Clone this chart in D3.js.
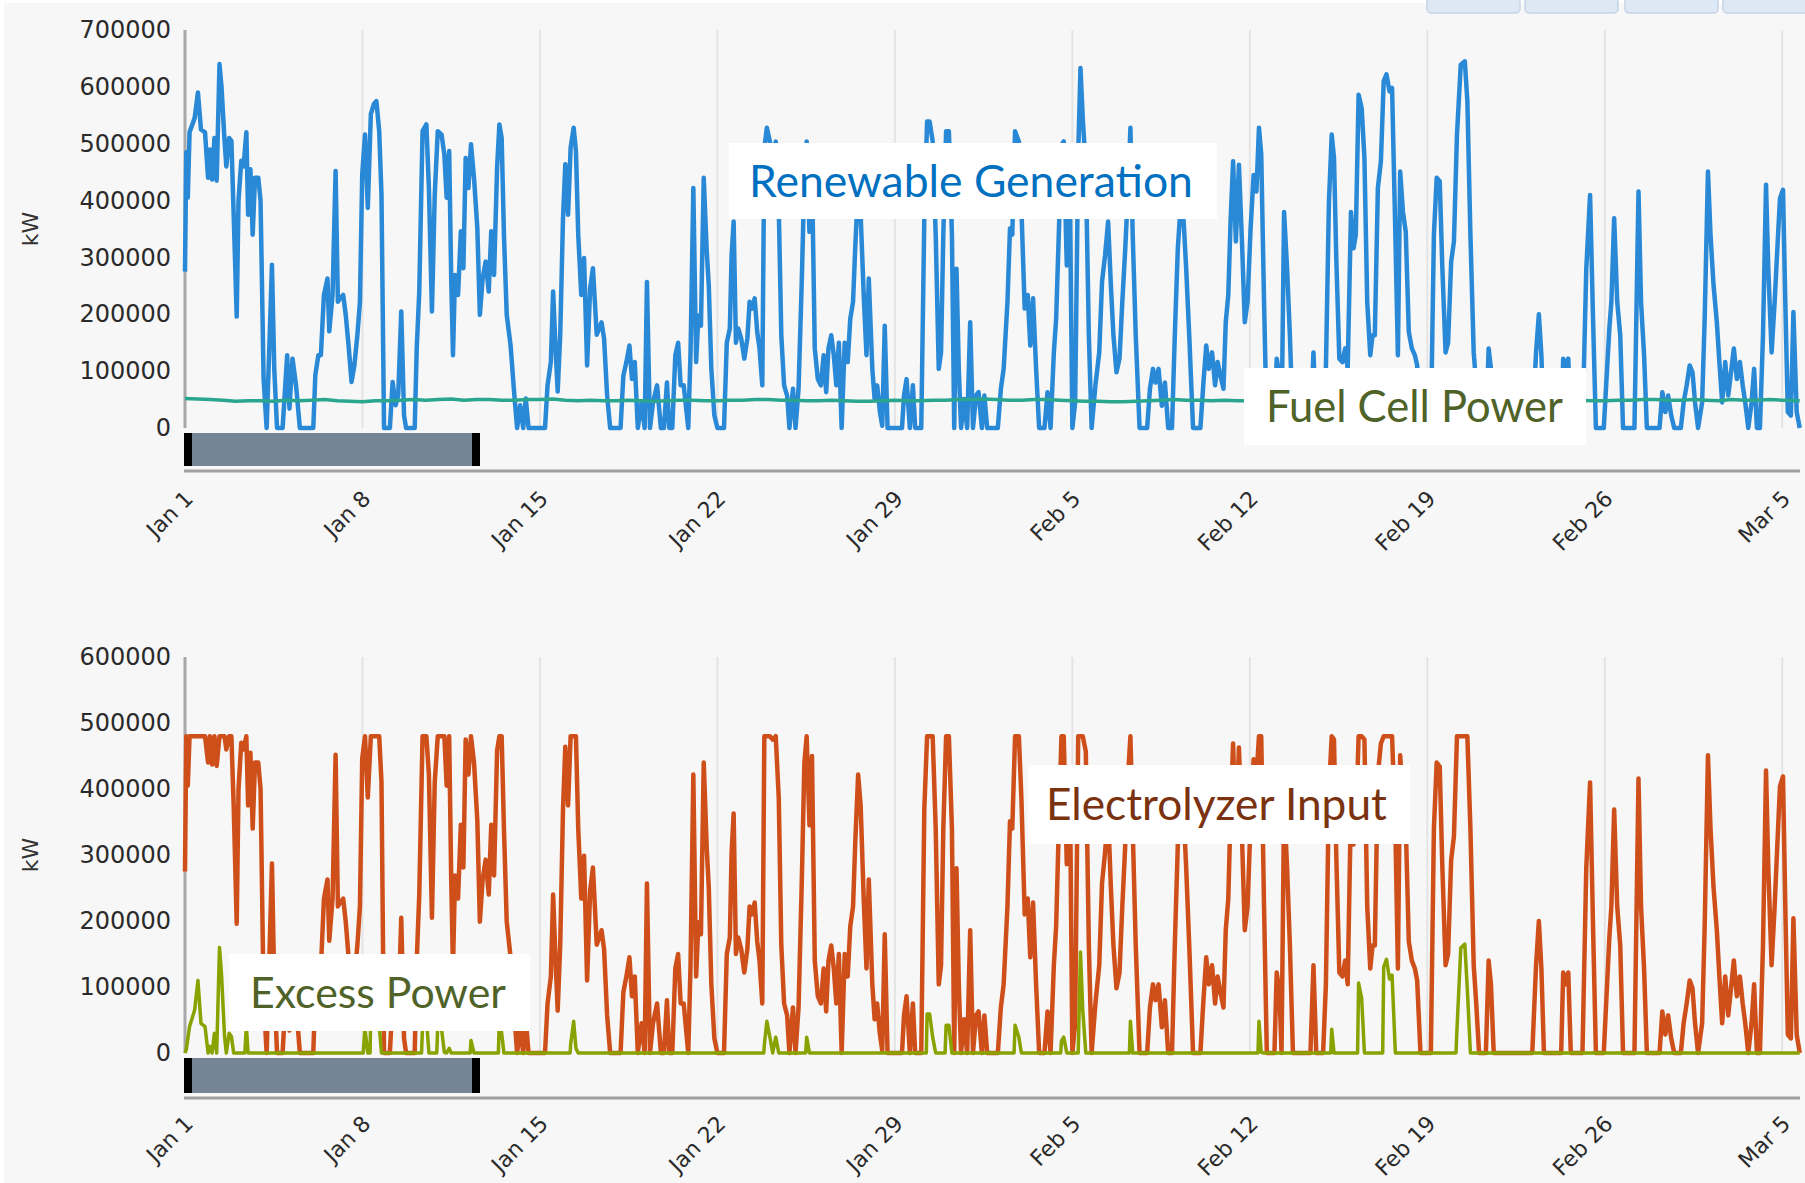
<!DOCTYPE html>
<html>
<head>
<meta charset="utf-8">
<script src="https://cdn.jsdelivr.net/npm/d3@7"></script>
<style>
  body { margin: 0; background: #fff; }
  svg { display: block; }
</style>
</head>
<body>
<svg id="chart"></svg>
<script>
// values are [day since Jan 1, MW]  (1 MW = 1000 kW)

var tickLabels = ['Jan 1', 'Jan 8', 'Jan 15', 'Jan 22', 'Jan 29', 'Feb 5', 'Feb 12', 'Feb 19', 'Feb 26', 'Mar 5'];
var tickDays = [0, 7, 14, 21, 28, 35, 42, 49, 56, 63];
var topTicks = [0, 100000, 200000, 300000, 400000, 500000, 600000, 700000];
var bottomTicks = [0, 100000, 200000, 300000, 400000, 500000, 600000];

var renewable = [
[0,275],[0.05,485],[0.11,405],[0.18,520],[0.38,545],[0.51,590],[0.63,525],[0.79,520],[0.91,440],[0.98,490],[1.07,437],[1.16,510],[1.25,435],[1.36,640],[1.44,600],[1.56,505],[1.63,460],[1.74,510],[1.83,505],[1.92,375],[2.04,196],[2.11,400],[2.22,470],[2.31,460],[2.42,520],[2.49,375],[2.58,455],[2.67,340],[2.76,440],[2.89,440],[2.98,400],[3.10,87],[3.22,0],[3.32,134],[3.43,287],[3.52,105],[3.63,0],[3.85,0],[4.03,128],[4.12,34],[4.24,122],[4.38,75],[4.53,0],[5.06,0],[5.14,93],[5.26,128],[5.36,128],[5.48,234],[5.62,263],[5.69,170],[5.82,234],[5.94,452],[6.03,222],[6.12,228],[6.24,234],[6.34,199],[6.45,146],[6.57,81],[6.68,110],[6.80,164],[6.90,222],[6.99,446],[7.10,516],[7.21,387],[7.33,552],[7.45,570],[7.55,575],[7.66,522],[7.75,410],[7.85,0],[8.08,0],[8.19,81],[8.31,40],[8.41,58],[8.53,205],[8.64,22],[8.72,0],[9.06,0],[9.14,140],[9.24,240],[9.37,522],[9.52,534],[9.62,422],[9.74,205],[9.85,410],[9.97,522],[10.12,516],[10.23,481],[10.32,405],[10.42,487],[10.50,263],[10.57,128],[10.65,269],[10.77,234],[10.88,346],[10.98,281],[11.07,475],[11.18,422],[11.28,499],[11.40,440],[11.53,352],[11.63,199],[11.74,263],[11.86,293],[11.98,240],[12.08,346],[12.19,269],[12.31,458],[12.40,534],[12.49,510],[12.58,340],[12.69,199],[12.84,146],[12.99,58],[13.10,0],[13.22,40],[13.34,0],[13.44,52],[13.55,0],[14.20,0],[14.30,75],[14.43,116],[14.52,240],[14.61,146],[14.70,64],[14.80,164],[14.91,370],[15.00,464],[15.11,375],[15.21,493],[15.33,528],[15.42,487],[15.51,340],[15.63,234],[15.74,299],[15.86,110],[15.98,246],[16.09,281],[16.24,164],
[16.43,186],[16.53,157],[16.65,57],[16.77,0],[17.18,0],[17.29,92],[17.41,116],[17.53,145],[17.63,86],[17.74,116],[17.86,0],[18.01,45],[18.13,0],[18.22,257],[18.34,0],[18.46,45],[18.62,75],[18.77,0],[18.89,0],[19.01,80],[19.10,0],[19.22,0],[19.34,128],[19.45,150],[19.55,75],[19.67,75],[19.85,0],[19.94,133],[20.05,422],[20.16,116],[20.25,198],[20.35,180],[20.46,440],[20.58,310],[20.66,250],[20.76,104],[20.88,22],[21.00,0],[21.26,0],[21.37,150],[21.49,175],[21.56,304],[21.64,363],[21.73,150],[21.82,175],[21.94,157],[22.06,122],[22.18,157],[22.27,222],[22.36,210],[22.47,228],[22.57,169],[22.66,140],[22.77,75],[22.85,492],[22.95,528],[23.07,504],[23.18,475],[23.30,504],[23.42,386],[23.52,163],[23.63,75],[23.75,57],[23.84,0],[23.98,69],[24.08,0],[24.20,69],[24.33,263],[24.43,440],[24.52,504],[24.63,345],[24.73,450],[24.84,140],[24.96,86],[25.08,75],[25.19,128],[25.29,63],[25.38,140],[25.49,163],[25.59,128],[25.69,75],[25.79,150],[25.90,0],[26.02,150],[26.14,116],[26.24,192],[26.35,222],[26.44,322],[26.55,422],[26.65,375],[26.77,234],[26.88,128],[26.97,263],[27.11,104],[27.20,51],[27.30,75],[27.41,28],[27.50,4],[27.60,180],[27.71,0],[28.28,0],[28.36,57],[28.46,86],[28.59,0],[28.71,75],[28.80,0],[29.04,0],[29.16,369],[29.27,539],[29.37,539],[29.49,504],[29.61,340],[29.73,104],[29.82,133],[29.91,340],[30.02,522],[30.13,522],[30.25,340],[30.34,0],[30.43,280],[30.52,104],[30.61,0],[30.73,51],[30.85,0],[30.97,186],[31.08,0],[31.20,57],[31.30,63],[31.43,0],[31.53,57],[31.64,0],[32.06,0],[32.18,69],[32.29,104],[32.44,222],[32.54,351],[32.63,340],[32.74,522],[32.89,504],[32.99,386],[33.12,210],[33.24,234],[33.34,145],[33.45,228],[33.57,104],[33.69,0],[33.90,0],[34.02,63],[34.14,0],[34.27,133],[34.36,192],[34.48,363],[34.57,498],[34.66,504],[34.78,286],[34.90,422],[35.00,0],[35.11,45],[35.23,480],[35.32,633],[35.41,545],[35.53,457],[35.65,163],[35.76,0],[35.91,75],[36.06,133],[36.17,257],[36.29,304],[36.41,363],[36.52,250],[36.62,163],[36.74,98],[36.86,122],[36.97,222],[37.08,310],[37.20,422],[37.29,528],[37.38,340],[37.50,163],[37.65,0],[37.95,0],[38.06,69],[38.18,104],[38.28,80],[38.40,104],[38.53,39],[38.65,80],[38.78,0],[38.93,0],[39.04,163],[39.16,316],[39.28,398],[39.39,363],[39.49,280],[39.61,163],[39.76,0],[40.05,0],
[40.17,80],[40.28,145],[40.38,104],[40.51,133],[40.63,75],[40.73,116],[40.84,92],[40.96,69],[41.05,186],[41.15,234],[41.24,363],[41.34,469],[41.45,328],[41.57,463],[41.69,328],[41.80,186],[41.91,222],[42.03,351],[42.15,445],[42.26,416],[42.36,528],[42.45,481],[42.56,222],[42.67,0],[42.97,0],[43.06,122],[43.17,92],[43.25,0],[43.35,380],[43.47,280],[43.58,163],[43.70,0],[44.39,0],[44.51,133],[44.62,0],[44.89,0],[45.00,104],[45.12,398],[45.23,516],[45.32,475],[45.41,298],[45.53,122],[45.65,116],[45.76,140],[45.86,104],[45.99,380],[46.09,316],[46.18,340],[46.29,586],[46.41,563],[46.52,475],[46.63,222],[46.75,128],[46.84,163],[46.93,163],[47.05,422],[47.17,469],[47.28,610],[47.39,622],[47.51,592],[47.61,598],[47.74,340],[47.84,128],[47.93,451],[48.04,380],[48.15,345],[48.27,169],[48.39,140],[48.51,128],[48.60,110],[48.73,0],[49.14,0],[49.26,340],[49.37,440],[49.49,434],[49.59,286],[49.72,133],[49.82,150],[49.94,292],[50.05,328],[50.17,516],[50.32,639],[50.48,645],[50.58,575],[50.70,340],[50.83,133],[50.93,75],[51.04,0],[51.31,0],[51.42,140],[51.51,104],[51.62,0],[53.14,0],[53.29,133],[53.40,200],[53.50,128],[53.60,0],[54.28,0],[54.36,122],[54.46,104],[54.56,122],[54.66,0],[55.12,0],[55.27,280],[55.42,410],[55.54,186],[55.65,0],[55.96,0],[56.18,175],[56.26,222],[56.37,369],[56.49,222],[56.61,163],[56.72,0],[57.17,0],[57.33,416],[57.43,222],[57.55,128],[57.66,0],[58.16,0],[58.27,63],[58.39,28],[58.50,57],[58.62,22],[58.74,0],[59.00,0],[59.11,45],[59.23,75],[59.35,110],[59.46,98],[59.56,45],[59.68,0],[59.84,45],[59.94,192],[60.07,451],[60.17,340],[60.29,251],[60.42,186],[60.52,116],[60.63,45],[60.75,116],[60.87,57],[60.98,98],[61.09,140],[61.21,86],[61.33,116],[61.44,75],[61.54,45],[61.66,0],[61.79,45],[61.89,104],[62.00,0],[62.12,0],[62.24,163],[62.36,428],[62.45,280],[62.58,133],[62.70,222],[62.80,310],[62.91,404],[63.03,419],[63.12,222],[63.22,28],[63.34,22],[63.44,204],[63.57,28],[63.69,0]
];

var fuelCell = [
[0,52],[0.5,51],[1,50],[1.5,49],[2,47],[2.5,48],[3,48],[3.5,47],[4,49],[4.5,48],[5,49],[5.5,50],[6,48],[6.5,47],[7,46],[7.5,48],[8,48],[8.5,49],[9,50],[9.5,49],[10,50],[10.5,51],[11,49],[11.5,50],[12,50],[12.5,49],[13,49],[13.5,50],[14,50],[14.5,51],[15,49],[15.5,48],[16,49],[16.5,48],[17,48],[17.5,49],[18,48],[18.5,47],[19,48],[19.5,49],[20,49],[20.5,48],[21,48],[21.5,49],[22,49],[22.5,50],[23,50],[23.5,49],[24,49],[24.5,48],[25,48],[25.5,49],[26,48],[26.5,47],[27,47],[27.5,48],[28,49],[28.5,48],[29,48],[29.5,49],[30,49],[30.5,50],[31,50],[31.5,51],[32,50],[32.5,49],[33,49],[33.5,50],[34,50],[34.5,49],[35,48],[35.5,47],[36,47],[36.5,46],[37,46],[37.5,47],[38,48],[38.5,49],[39,50],[39.5,49],[40,49],[40.5,48],[41,49],[41.5,48],[42,48],[42.5,47],[43,47],[43.5,48],[44,48],[44.5,47],[45,48],[45.5,49],[46,48],[46.5,47],[47,47],[47.5,48],[48,48],[48.5,47],[49,48],[49.5,49],[50,49],[50.5,48],[51,48],[51.5,49],[52,49],[52.5,48],[53,49],[53.5,48],[54,48],[54.5,49],[55,49],[55.5,48],[56,48],[56.5,49],[57,49],[57.5,50],[58,50],[58.5,49],[59,49],[59.5,50],[60,49],[60.5,48],[61,50],[61.5,49],[62,49],[62.5,50],[63,49],[63.69,48]
];

var electrolyzer = [
[0,275],[0.05,480],[0.11,405],[0.18,480],[0.38,480],[0.51,480],[0.63,480],[0.79,480],[0.91,440],[0.98,480],[1.07,437],[1.16,480],[1.25,435],[1.36,480],[1.44,480],[1.56,480],[1.63,460],[1.74,480],[1.83,480],[1.92,375],[2.04,196],[2.11,400],[2.22,470],[2.31,460],[2.42,480],[2.49,375],[2.58,455],[2.67,340],[2.76,440],[2.89,440],[2.98,400],[3.10,87],[3.22,0],[3.32,134],[3.43,287],[3.52,105],[3.63,0],[3.85,0],[4.03,128],[4.12,34],[4.24,122],[4.38,75],[4.53,0],[5.06,0],[5.14,93],[5.26,128],[5.36,128],[5.48,234],[5.62,263],[5.69,170],[5.82,234],[5.94,452],[6.03,222],[6.12,228],[6.24,234],[6.34,199],[6.45,146],[6.57,81],[6.68,110],[6.80,164],[6.90,222],[6.99,446],[7.10,480],[7.21,387],[7.33,480],[7.45,480],[7.55,480],[7.66,480],[7.75,410],[7.85,0],[8.08,0],[8.19,81],[8.31,40],[8.41,58],[8.53,205],[8.64,22],[8.72,0],[9.06,0],[9.14,140],[9.24,240],[9.37,480],[9.52,480],[9.62,422],[9.74,205],[9.85,410],[9.97,480],[10.12,480],[10.23,480],[10.32,405],[10.42,480],[10.50,263],[10.57,128],[10.65,269],[10.77,234],[10.88,346],[10.98,281],[11.07,475],[11.18,422],[11.28,480],[11.40,440],[11.53,352],[11.63,199],[11.74,263],[11.86,293],[11.98,240],[12.08,346],[12.19,269],[12.31,458],[12.40,480],[12.49,480],[12.58,340],[12.69,199],[12.84,146],[12.99,58],[13.10,0],[13.22,40],[13.34,0],[13.44,52],[13.55,0],[14.20,0],[14.30,75],[14.43,116],[14.52,240],[14.61,146],[14.70,64],[14.80,164],[14.91,370],[15.00,464],[15.11,375],[15.21,480],[15.33,480],[15.42,480],[15.51,340],[15.63,234],[15.74,299],[15.86,110],[15.98,246],[16.09,281],[16.24,164],
[16.43,186],[16.53,157],[16.65,57],[16.77,0],[17.18,0],[17.29,92],[17.41,116],[17.53,145],[17.63,86],[17.74,116],[17.86,0],[18.01,45],[18.13,0],[18.22,257],[18.34,0],[18.46,45],[18.62,75],[18.77,0],[18.89,0],[19.01,80],[19.10,0],[19.22,0],[19.34,128],[19.45,150],[19.55,75],[19.67,75],[19.85,0],[19.94,133],[20.05,422],[20.16,116],[20.25,198],[20.35,180],[20.46,440],[20.58,310],[20.66,250],[20.76,104],[20.88,22],[21.00,0],[21.26,0],[21.37,150],[21.49,175],[21.56,304],[21.64,363],[21.73,150],[21.82,175],[21.94,157],[22.06,122],[22.18,157],[22.27,222],[22.36,210],[22.47,228],[22.57,169],[22.66,140],[22.77,75],[22.85,480],[22.95,480],[23.07,480],[23.18,475],[23.30,480],[23.42,386],[23.52,163],[23.63,75],[23.75,57],[23.84,0],[23.98,69],[24.08,0],[24.20,69],[24.33,263],[24.43,440],[24.52,480],[24.63,345],[24.73,450],[24.84,140],[24.96,86],[25.08,75],[25.19,128],[25.29,63],[25.38,140],[25.49,163],[25.59,128],[25.69,75],[25.79,150],[25.90,0],[26.02,150],[26.14,116],[26.24,192],[26.35,222],[26.44,322],[26.55,422],[26.65,375],[26.77,234],[26.88,128],[26.97,263],[27.11,104],[27.20,51],[27.30,75],[27.41,28],[27.50,4],[27.60,180],[27.71,0],[28.28,0],[28.36,57],[28.46,86],[28.59,0],[28.71,75],[28.80,0],[29.04,0],[29.16,369],[29.27,480],[29.37,480],[29.49,480],[29.61,340],[29.73,104],[29.82,133],[29.91,340],[30.02,480],[30.13,480],[30.25,340],[30.34,0],[30.43,280],[30.52,104],[30.61,0],[30.73,51],[30.85,0],[30.97,186],[31.08,0],[31.20,57],[31.30,63],[31.43,0],[31.53,57],[31.64,0],[32.06,0],[32.18,69],[32.29,104],[32.44,222],[32.54,351],[32.63,340],[32.74,480],[32.89,480],[32.99,386],[33.12,210],[33.24,234],[33.34,145],[33.45,228],[33.57,104],[33.69,0],[33.90,0],[34.02,63],[34.14,0],[34.27,133],[34.36,192],[34.48,363],[34.57,480],[34.66,480],[34.78,286],[34.90,422],[35.00,0],[35.11,45],[35.23,480],[35.32,480],[35.41,480],[35.53,457],[35.65,163],[35.76,0],[35.91,75],[36.06,133],[36.17,257],[36.29,304],[36.41,363],[36.52,250],[36.62,163],[36.74,98],[36.86,122],[36.97,222],[37.08,310],[37.20,422],[37.29,480],[37.38,340],[37.50,163],[37.65,0],[37.95,0],[38.06,69],[38.18,104],[38.28,80],[38.40,104],[38.53,39],[38.65,80],[38.78,0],[38.93,0],[39.04,163],[39.16,316],[39.28,398],[39.39,363],[39.49,280],[39.61,163],[39.76,0],[40.05,0],
[40.17,80],[40.28,145],[40.38,104],[40.51,133],[40.63,75],[40.73,116],[40.84,92],[40.96,69],[41.05,186],[41.15,234],[41.24,363],[41.34,469],[41.45,328],[41.57,463],[41.69,328],[41.80,186],[41.91,222],[42.03,351],[42.15,445],[42.26,416],[42.36,480],[42.45,480],[42.56,222],[42.67,0],[42.97,0],[43.06,122],[43.17,92],[43.25,0],[43.35,380],[43.47,280],[43.58,163],[43.70,0],[44.39,0],[44.51,133],[44.62,0],[44.89,0],[45.00,104],[45.12,398],[45.23,480],[45.32,475],[45.41,298],[45.53,122],[45.65,116],[45.76,140],[45.86,104],[45.99,380],[46.09,316],[46.18,340],[46.29,480],[46.41,480],[46.52,475],[46.63,222],[46.75,128],[46.84,163],[46.93,163],[47.05,422],[47.17,469],[47.28,480],[47.39,480],[47.51,480],[47.61,480],[47.74,340],[47.84,128],[47.93,451],[48.04,380],[48.15,345],[48.27,169],[48.39,140],[48.51,128],[48.60,110],[48.73,0],[49.14,0],[49.26,340],[49.37,440],[49.49,434],[49.59,286],[49.72,133],[49.82,150],[49.94,292],[50.05,328],[50.17,480],[50.32,480],[50.48,480],[50.58,480],[50.70,340],[50.83,133],[50.93,75],[51.04,0],[51.31,0],[51.42,140],[51.51,104],[51.62,0],[53.14,0],[53.29,133],[53.40,200],[53.50,128],[53.60,0],[54.28,0],[54.36,122],[54.46,104],[54.56,122],[54.66,0],[55.12,0],[55.27,280],[55.42,410],[55.54,186],[55.65,0],[55.96,0],[56.18,175],[56.26,222],[56.37,369],[56.49,222],[56.61,163],[56.72,0],[57.17,0],[57.33,416],[57.43,222],[57.55,128],[57.66,0],[58.16,0],[58.27,63],[58.39,28],[58.50,57],[58.62,22],[58.74,0],[59.00,0],[59.11,45],[59.23,75],[59.35,110],[59.46,98],[59.56,45],[59.68,0],[59.84,45],[59.94,192],[60.07,451],[60.17,340],[60.29,251],[60.42,186],[60.52,116],[60.63,45],[60.75,116],[60.87,57],[60.98,98],[61.09,140],[61.21,86],[61.33,116],[61.44,75],[61.54,45],[61.66,0],[61.79,45],[61.89,104],[62.00,0],[62.12,0],[62.24,163],[62.36,428],[62.45,280],[62.58,133],[62.70,222],[62.80,310],[62.91,404],[63.03,419],[63.12,222],[63.22,28],[63.34,22],[63.44,204],[63.57,28],[63.69,0]
];

var excess = [
[0,0],[0.05,5],[0.18,40],[0.38,65],[0.51,110],[0.63,45],[0.79,40],[0.91,0],[0.98,10],[1.07,0],[1.16,30],[1.25,0],[1.36,160],[1.44,120],[1.56,25],[1.63,0],[1.74,30],[1.83,25],[1.92,0],[2.36,0],[2.42,40],[2.49,0],
[7.03,0],[7.10,36],[7.21,0],[7.30,0],[7.33,72],[7.45,90],[7.55,95],[7.66,42],[7.75,0],[9.33,0],[9.37,42],[9.52,54],[9.62,0],[9.93,0],[9.97,42],[10.12,36],[10.23,1],[10.32,0],[10.42,7],[10.50,0],[11.25,0],[11.28,19],[11.40,0],[12.36,0],[12.40,54],[12.49,30],[12.58,0],
[15.19,0],[15.21,13],[15.33,48],[15.42,7],[15.51,0],[22.83,0],[22.85,12],[22.95,48],[23.07,24],[23.18,0],[23.30,24],[23.42,0],[24.48,0],[24.52,24],[24.63,0],[29.24,0],[29.27,59],[29.37,59],[29.49,24],[29.61,0],[29.98,0],[30.02,42],[30.13,42],[30.25,0],[32.70,0],[32.74,42],[32.89,24],[32.99,0],[34.54,0],[34.57,18],[34.66,24],[34.78,0],[35.23,0],[35.32,153],[35.41,65],[35.53,0],[37.25,0],[37.29,48],[37.38,0],
[42.32,0],[42.36,48],[42.45,1],[42.56,0],[45.19,0],[45.23,36],[45.32,0],[46.25,0],[46.29,106],[46.41,83],[46.52,0],[47.24,0],[47.28,130],[47.39,142],[47.51,112],[47.61,118],[47.74,0],[50.13,0],[50.17,36],[50.32,159],[50.48,165],[50.58,95],[50.70,0],[63.69,0]
];

var W = 1805, H = 1183;
var t0 = Date.UTC(2015, 0, 1);
function toDate(day) { return new Date(t0 + day * 864e5); }

var svg = d3.select('#chart').attr('width', W).attr('height', H);

// page background
svg.append('rect').attr('x', 4).attr('y', 3).attr('width', W).attr('height', H).attr('fill', '#f7f7f7');

// range selector buttons (cut off at the top)
[1427, 1525, 1625, 1723].forEach(function (bx) {
	svg.append('rect')
		.attr('x', bx).attr('y', -8).attr('width', 93).attr('height', 21).attr('rx', 4)
		.attr('fill', '#dde8f5').attr('stroke', '#c6d4e6').attr('stroke-width', 1.5);
});

var xScale = d3.scaleUtc()
	.domain([toDate(0), toDate(63.7)])
	.range([185, 1800]);

var tickDates = tickDays.map(toDate);

function drawPanel(p) {
	var g = svg.append('g');

	var yScale = d3.scaleLinear()
		.domain([0, p.yMax])
		.range([p.y0, p.y1]);

	// vertical grid lines
	g.selectAll('line.grid')
		.data(tickDates.slice(1))
		.enter()
		.append('line')
			.attr('x1', d => xScale(d)).attr('x2', d => xScale(d))
			.attr('y1', p.y1).attr('y2', p.y0)
			.attr('stroke', '#e4e4e4').attr('stroke-width', 2);

	// y axis
	var yAxis = d3.axisLeft(yScale)
		.tickValues(p.ticks)
		.tickFormat(d3.format('d'))
		.tickSize(0)
		.tickPadding(14);

	var ya = g.append('g')
		.attr('transform', 'translate(185,0)')
		.call(yAxis);
	ya.select('.domain').remove();
	ya.selectAll('text')
		.attr('fill', '#2a2a2a')
		.style('font-family', '"DejaVu Sans", sans-serif')
		.style('font-size', '24px');

	g.append('line')
		.attr('x1', 185).attr('x2', 185)
		.attr('y1', p.y1).attr('y2', p.y0)
		.attr('stroke', '#a8a8a8').attr('stroke-width', 3);

	g.append('text')
		.attr('transform', 'translate(38,' + ((p.y0 + p.y1) / 2) + ') rotate(-90)')
		.attr('text-anchor', 'middle')
		.style('font-family', '"DejaVu Sans", sans-serif')
		.style('font-size', '22px')
		.attr('fill', '#333')
		.text('kW');

	// series
	var line = d3.line()
		.x(d => xScale(toDate(d[0])))
		.y(d => yScale(d[1] * 1000));

	p.series.forEach(function (s) {
		g.append('path')
			.datum(s.data)
			.attr('fill', 'none')
			.attr('stroke', s.color)
			.attr('stroke-width', s.width)
			.attr('stroke-linejoin', 'round')
			.attr('d', line);
	});

	// navigator
	g.append('rect')
		.attr('x', 184).attr('y', p.navTop).attr('width', 296).attr('height', p.navH)
		.attr('fill', '#768596');
	g.append('rect')
		.attr('x', 184).attr('y', p.navTop).attr('width', 8).attr('height', p.navH)
		.attr('fill', '#000');
	g.append('rect')
		.attr('x', 472).attr('y', p.navTop).attr('width', 8).attr('height', p.navH)
		.attr('fill', '#000');
	g.append('line')
		.attr('x1', 184).attr('x2', 1800)
		.attr('y1', p.base).attr('y2', p.base)
		.attr('stroke', '#a0a0a0').attr('stroke-width', 3);

	// x axis labels
	var xAxis = d3.axisBottom(xScale)
		.tickValues(tickDates)
		.tickFormat((d, i) => tickLabels[i])
		.tickSize(0);

	var xa = g.append('g')
		.attr('transform', 'translate(0,' + p.base + ')')
		.call(xAxis);
	xa.select('.domain').remove();
	xa.selectAll('text')
		.attr('y', 0).attr('dy', 0)
		.attr('text-anchor', 'end')
		.attr('transform', 'translate(9,' + p.labelDy + ') rotate(-45)')
		.attr('fill', '#2a2a2a')
		.style('font-family', '"DejaVu Sans", sans-serif')
		.style('font-size', '22px');

	// annotation boxes
	p.notes.forEach(function (n) {
		g.append('rect')
			.attr('x', n.box[0]).attr('y', n.box[1])
			.attr('width', n.box[2] - n.box[0]).attr('height', n.box[3] - n.box[1])
			.attr('fill', '#fff');
		var t = g.append('text')
			.attr('x', n.textX)
			.attr('fill', n.color)
			.style('font-family', 'Lato, "Open Sans", sans-serif')
			.style('font-size', '40px')
			.text(n.text);
		var fs = 40 * n.textW / t.node().getComputedTextLength();
		t.style('font-size', fs + 'px')
			.attr('y', (n.box[1] + n.box[3]) / 2 + fs * 0.355);
	});
}

drawPanel({
	yMax: 700000, ticks: topTicks, y0: 428, y1: 30,
	navTop: 433, navH: 33, base: 471, labelDy: 29,
	series: [
		{ data: renewable, color: '#2989d6', width: 4.5 },
		{ data: fuelCell, color: '#2aa58e', width: 3.5 }
	],
	notes: [
		{ text: 'Renewable Generation', color: '#0070c0', box: [729, 143, 1217, 219], textX: 749, textW: 444 },
		{ text: 'Fuel Cell Power', color: '#4f6228', box: [1244, 368, 1586, 445], textX: 1266, textW: 297 }
	]
});

drawPanel({
	yMax: 600000, ticks: bottomTicks, y0: 1053, y1: 657,
	navTop: 1058, navH: 35, base: 1098, labelDy: 27,
	series: [
		{ data: electrolyzer, color: '#cf4f1a', width: 4.5 },
		{ data: excess, color: '#89a200', width: 3.5 }
	],
	notes: [
		{ text: 'Electrolyzer Input', color: '#7a3210', box: [1028, 765, 1410, 844], textX: 1046, textW: 341 },
		{ text: 'Excess Power', color: '#4f6228', box: [229, 954, 530, 1031], textX: 250, textW: 256 }
	]
});
</script>
</body>
</html>
